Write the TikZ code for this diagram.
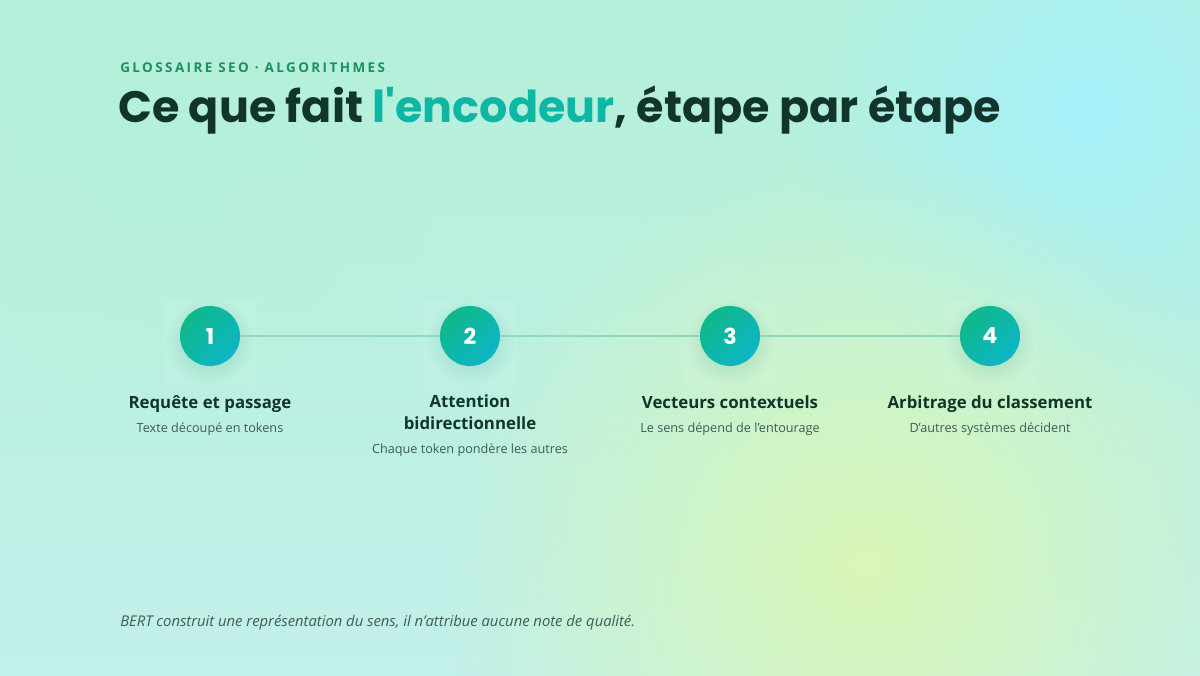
\documentclass[tikz,border=0pt]{standalone}
\usepackage{fontspec}
\setmainfont{Open Sans}
\newfontfamily\titlefont[FakeStretch=1.01]{Poppins}
\newfontfamily\kickerfont[LetterSpace=18]{Open Sans}

\usetikzlibrary{fadings, positioning}

\definecolor{bgmint}{HTML}{B4F0D9}
\definecolor{bgcyan}{HTML}{C2F0EA}
\definecolor{glowcyan}{HTML}{A6F0FA}
\definecolor{glowlime}{HTML}{DDF8B2}
\definecolor{inkdark}{HTML}{12352B}
\definecolor{inksoft}{HTML}{3E5C54}
\definecolor{kicker}{HTML}{1A9063}
\definecolor{stepgreen}{HTML}{10B889}
\definecolor{stepcyan}{HTML}{0CB6C6}
\definecolor{linkcol}{HTML}{8ED8BE}

\tikzfading[name=softglow, inner color=transparent!0, outer color=transparent!100]

\begin{document}
\begin{tikzpicture}[x=0.75pt, y=-0.75pt,
                    stepdot/.style = {circle, minimum size=45pt, inner sep=0pt,
                                      top color=stepgreen, bottom color=stepcyan,
                                      shading angle=45, text=white,
                                      font=\titlefont\bfseries\fontsize{16.5}{16.5}\selectfont},
                    steptitle/.style = {anchor=base, align=center, text=inkdark,
                                        font=\bfseries\fontsize{12.6}{15.8}\selectfont},
                    stepdesc/.style = {anchor=base, text=inksoft,
                                       font=\fontsize{9.5}{12}\selectfont},
                    linkline/.style = {draw=linkcol, line width=1.6pt}
                   ]
  % background
  \useasboundingbox (0,0) rectangle (1200,675);
  \shade[top color=bgmint, bottom color=bgcyan] (0,0) rectangle (1200,675);
  \fill[glowcyan, path fading=softglow] (1090,110) circle (300);
  \fill[glowlime, opacity=.9, path fading=softglow] (865,565) circle (420);
  \fill[bgmint, opacity=.7, path fading=softglow] (160,160) circle (280);

  % heading
  \node[anchor=base west, inner sep=0pt, text=kicker,
        font=\kickerfont\bfseries\fontsize{10.1}{12}\selectfont] (kick) at (120,72)
        {GLOSSAIRE SEO · ALGORITHMES};
  \node[anchor=base west, inner sep=0pt, text=inkdark,
        font=\titlefont\bfseries\fontsize{33}{36}\selectfont] (title) at (118,122)
        {Ce que fait \textcolor{stepgreen!55!stepcyan}{l'encodeur}, étape par étape};

  % steps
  \foreach \x in {210, 470, 730, 990}{
    \fill[white, opacity=.07] (\x-47,300) rectangle (\x+47,386);
    \fill[stepgreen!70!black, opacity=.25, path fading=softglow] (\x,342) circle (44);
  }
  \node[stepdot] (n1) at (210,336) {1};
  \node[stepdot] (n2) at (470,336) {2};
  \node[stepdot] (n3) at (730,336) {3};
  \node[stepdot] (n4) at (990,336) {4};
  \draw[linkline] (n1) -- (n2);
  \draw[linkline] (n2) -- (n3);
  \draw[linkline] (n3) -- (n4);

  \node[steptitle] (t1) at (210,408) {Requête et passage};
  \node[steptitle] (t2) at (470,429) {Attention\\bidirectionnelle};
  \node[steptitle] (t3) at (730,408) {Vecteurs contextuels};
  \node[steptitle] (t4) at (990,408) {Arbitrage du classement};

  \node[stepdesc] (d1) at (210,432) {Texte découpé en tokens};
  \node[stepdesc] (d2) at (470,453) {Chaque token pondère les autres};
  \node[stepdesc] (d3) at (730,432) {Le sens dépend de l'entourage};
  \node[stepdesc] (d4) at (990,432) {D'autres systèmes décident};

  % footnote
  \node[anchor=base west, inner sep=0pt, text=inksoft,
        font=\itshape\fontsize{11.1}{13}\selectfont] (note) at (120,626)
        {BERT construit une représentation du sens, il n'attribue aucune note de qualité.};
\end{tikzpicture}
\end{document}
